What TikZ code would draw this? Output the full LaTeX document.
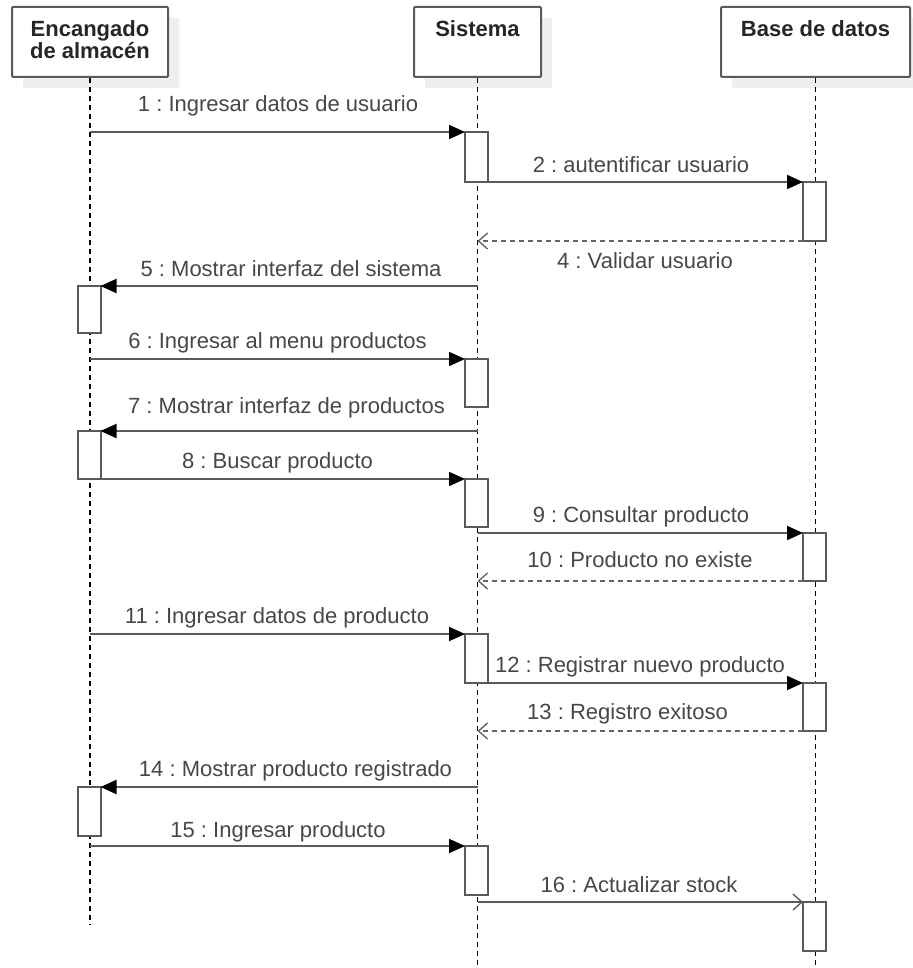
\documentclass[tikz,border=0pt]{standalone}
\usepackage{fontspec}
\setmainfont{Liberation Sans}
\usetikzlibrary{arrows.meta,shadows}
\definecolor{linegray}{HTML}{5A5A5A}
\definecolor{textgray}{HTML}{474747}
\definecolor{shadowgray}{HTML}{EFEFEF}
\frenchspacing

\begin{document}
\begin{tikzpicture}[x=1pt, y=-1pt,
  hdr/.style={draw=linegray, line width=2pt, rounded corners=1pt, fill=white,
    minimum width=#1, minimum height=70pt, anchor=north, inner sep=0pt,
    drop shadow={shadow xshift=11pt, shadow yshift=-11pt, fill=shadowgray, opacity=1}},
  hdrtext/.style={font=\fontsize{22}{21.5}\selectfont\bfseries, text=black!85,
    align=center, anchor=north, inner sep=0pt},
  act/.style={draw=linegray, line width=2pt, fill=white, minimum width=23pt,
    minimum height=#1, anchor=north, inner sep=0pt, outer sep=0pt},
  lifeline/.style={line width=1.5pt, dash pattern=on 5pt off 4pt},
  call/.style={draw=linegray, line width=2pt, -{Triangle[length=16pt, width=14pt, color=black]}},
  reply/.style={draw=black!60, line width=2pt, dash pattern=on 5pt off 4pt,
    -{Straight Barb[length=9pt, width=16pt, line width=1.4pt]}},
  async/.style={draw=linegray, line width=2pt, -{Straight Barb[length=9pt, width=16pt, line width=1.4pt]}},
  msg/.style={font=\fontsize{22}{24}\selectfont, text=textgray, anchor=base, inner sep=0pt},
]
  \useasboundingbox (0,0) rectangle (912,968);

  % Lifeline heads
  \node[hdr=156pt] (enc) at (90,6) {};
  \node[hdr=127pt] (sis) at (477.5,6) {};
  \node[hdr=189pt] (bd) at (815.5,6) {};
  \node[hdrtext] (encT) at (90,20.5) {Encangado\\de almacén};
  \node[hdrtext] (sisT) at (477.5,20.5) {Sistema};
  \node[hdrtext] (bdT) at (815.5,20.5) {Base de datos};

  % Lifelines
  \coordinate (encEnd) at (90,925);
  \coordinate (sisEnd) at (477.5,968);
  \coordinate (bdEnd) at (815.5,968);
  \draw[lifeline] (enc.south) -- (encEnd);
  \draw[lifeline] (sis.south) -- (sisEnd);
  \draw[lifeline] (bd.south) -- (bdEnd);

  % Activations
  \node[act=47pt] (e1) at (89,286) {};
  \node[act=48pt] (e2) at (89,431) {};
  \node[act=49pt] (e3) at (89,787) {};
  \node[act=50pt] (s1) at (476.5,132) {};
  \node[act=48pt] (s2) at (476.5,359) {};
  \node[act=48pt] (s3) at (476.5,479) {};
  \node[act=49pt] (s4) at (476.5,634) {};
  \node[act=49pt] (s5) at (476.5,846) {};
  \node[act=59pt] (b1) at (814.5,182) {};
  \node[act=48pt] (b2) at (814.5,533) {};
  \node[act=48pt] (b3) at (814.5,683) {};
  \node[act=49pt] (b4) at (814.5,902) {};

  % Messages
  \draw[call] (enc.south |- s1.north west) -- (s1.north west);
  \draw[call] (s1.south east) -- (b1.north west);
  \draw[reply] (b1.south west) -- (sis.south |- b1.south west);
  \draw[call] (sis.south |- e1.north east) -- (e1.north east);
  \draw[call] (enc.south |- s2.north west) -- (s2.north west);
  \draw[call] (sis.south |- e2.north east) -- (e2.north east);
  \draw[call] (enc.south |- s3.north west) -- (s3.north west);
  \draw[call] (sis.south |- b2.north west) -- (b2.north west);
  \draw[reply] (b2.south west) -- (sis.south |- b2.south west);
  \draw[call] (enc.south |- s4.north west) -- (s4.north west);
  \draw[call] (s4.south east) -- (b3.north west);
  \draw[reply] (b3.south west) -- (sis.south |- b3.south west);
  \draw[call] (sis.south |- e3.north east) -- (e3.north east);
  \draw[call] (enc.south |- s5.north west) -- (s5.north west);
  \draw[async] (sis.south |- b4.north west) -- (b4.north west);

  % Message labels
  \node[msg] (t1) at (278,112) {1 : Ingresar datos de usuario};
  \node[msg] (t2) at (641,173) {2 : autentificar usuario};
  \node[msg] (t4) at (645,268) {4 : Validar usuario};
  \node[msg] (t5) at (291,276) {5 : Mostrar interfaz del sistema};
  \node[msg] (t6) at (277.5,348) {6 : Ingresar al menu productos};
  \node[msg] (t7) at (286.5,413) {7 : Mostrar interfaz de productos};
  \node[msg] (t8) at (277.5,468) {8 : Buscar producto};
  \node[msg] (t9) at (641,522) {9 : Consultar producto};
  \node[msg] (t10) at (640,567) {10 : Producto no existe};
  \node[msg] (t11) at (277,623) {11 : Ingresar datos de producto};
  \node[msg] (t12) at (640,672) {12 : Registrar nuevo producto};
  \node[msg] (t13) at (627.5,719) {13 : Registro exitoso};
  \node[msg] (t14) at (295.5,776) {14 : Mostrar producto registrado};
  \node[msg] (t15) at (278,837) {15 : Ingresar producto};
  \node[msg] (t16) at (639,892) {16 : Actualizar stock};
\end{tikzpicture}
\end{document}
